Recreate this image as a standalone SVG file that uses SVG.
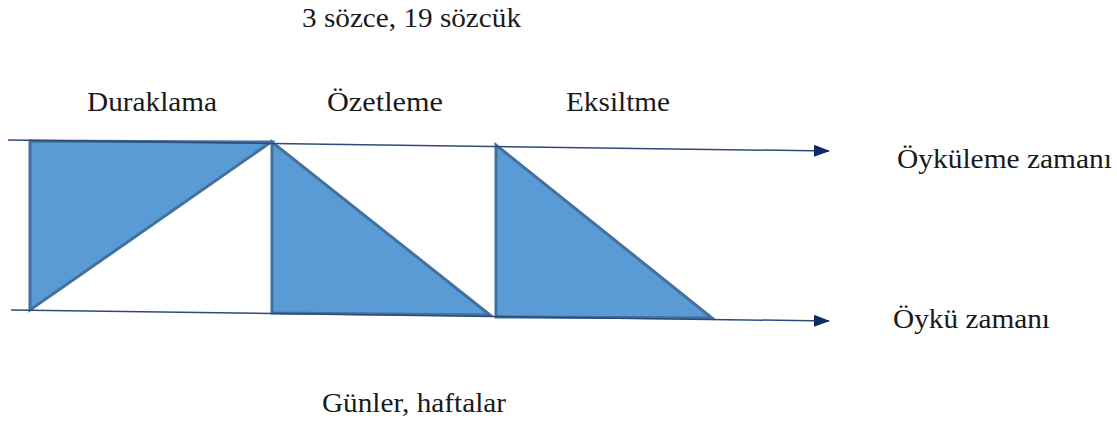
<svg xmlns="http://www.w3.org/2000/svg" width="1117" height="421" viewBox="0 0 1117 421">
<style>
text{font-family:'Liberation Serif','Times New Roman',Times,serif;font-size:27px;fill:#1a1a1a}
.tri{fill:#5b9bd5;stroke:#41719c;stroke-width:3;stroke-linejoin:miter}
.axis{stroke:#2f4a7a;stroke-width:1.5;fill:none}
</style>
<defs>
<marker id="ah" markerWidth="16" markerHeight="12" refX="15" refY="6" orient="auto" markerUnits="userSpaceOnUse">
<path d="M0,0 L16,6 L0,12 Z" fill="#0f2a66"/>
</marker>
</defs>
<g id="triangle-duraklama"><polygon class="tri" points="30,141 271,142 30,310"/></g>
<g id="triangle-ozetleme"><polygon class="tri" points="272,142 272,313 490,315"/></g>
<g id="triangle-eksiltme"><polygon class="tri" points="496,145 496,317 712,318"/></g>
<g id="connectors">
<line class="axis" x1="8" y1="140" x2="829" y2="151" marker-end="url(#ah)"/>
<line class="axis" x1="11" y1="310" x2="829" y2="321" marker-end="url(#ah)"/>
</g>
<g id="labels">
<text x="302" y="27" textLength="219" lengthAdjust="spacingAndGlyphs">3 sözce, 19 sözcük</text>
<text x="87" y="111" textLength="130" lengthAdjust="spacingAndGlyphs">Duraklama</text>
<text x="327" y="111" textLength="116" lengthAdjust="spacingAndGlyphs">Özetleme</text>
<text x="566" y="111" textLength="104" lengthAdjust="spacingAndGlyphs">Eksiltme</text>
<text x="897" y="168" textLength="215" lengthAdjust="spacingAndGlyphs">Öyküleme zamanı</text>
<text x="893" y="328" textLength="157" lengthAdjust="spacingAndGlyphs">Öykü zamanı</text>
<text x="322" y="412" textLength="184" lengthAdjust="spacingAndGlyphs">Günler, haftalar</text>
</g>
</svg>
